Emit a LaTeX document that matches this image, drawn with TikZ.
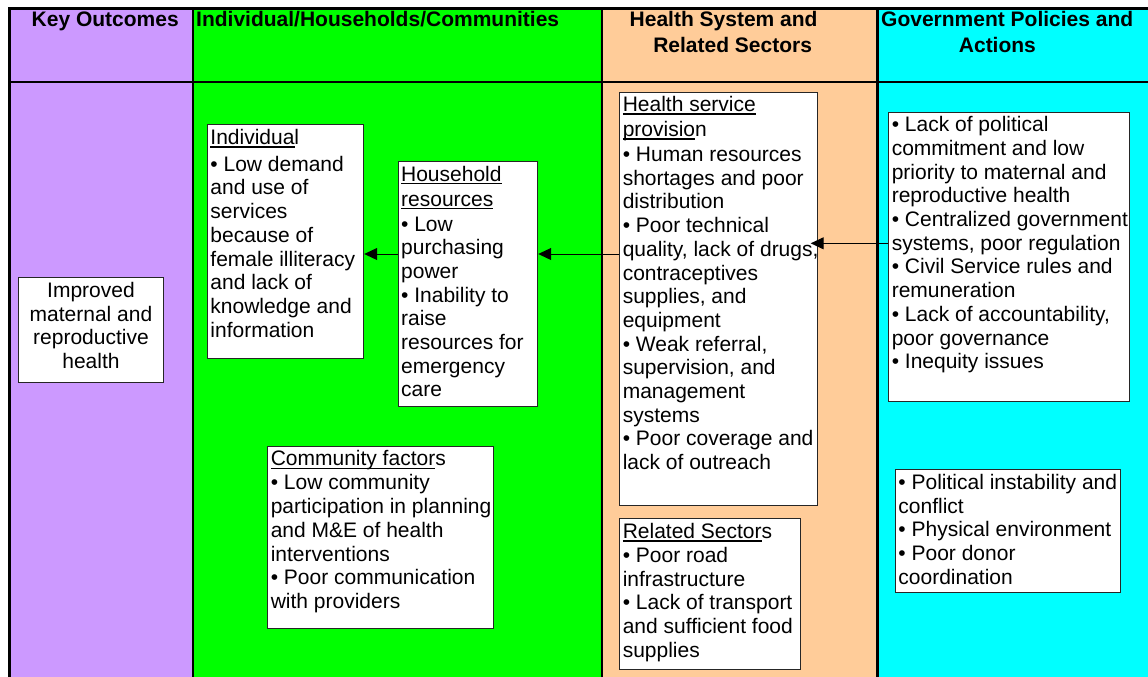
\documentclass[tikz,border=0pt]{standalone}
\usepackage{fontspec}
\setmainfont{Liberation Sans}
\usetikzlibrary{arrows.meta}

\definecolor{outcomecol}{HTML}{CC99FF}
\definecolor{householdcol}{HTML}{00FF00}
\definecolor{healthcol}{HTML}{FFCC99}
\definecolor{govcol}{HTML}{00FFFF}

% underline drawn at a fixed depth below the baseline
\newcommand\undl[1]{\leavevmode\setbox0\hbox{#1}\rlap{\rule[-3.3pt]{\wd0}{1.4pt}}\box0}
\newcommand\bodysize{\fontsize{21}{23.7}\selectfont}
% fixed-size text area, top aligned; lines are set one per row and never rewrapped
\newcommand\boxtext[3]{\parbox[c][#2][t]{#1}{\bodysize\begin{tabular}[t]{@{}l@{}}#3\end{tabular}}}

\tikzset{
  infobox/.style={draw=black!85, line width=0.9pt, fill=white, inner sep=3pt, anchor=north west},
  header/.style={inner sep=0pt, anchor=base west, align=left},
  link/.style={draw=black, line width=1pt, -{Triangle[length=13pt,width=12pt]}},
  frame/.style={line width=2.7pt, line cap=rect},
}

\begin{document}
\begin{tikzpicture}[x=1pt, y=-1pt]
\useasboundingbox (0,0) rectangle (1148,677);

% column backgrounds
\fill[outcomecol]   (9.5,8.3) rectangle (193,677);
\fill[householdcol] (193,8.3) rectangle (602,677);
\fill[healthcol]    (602,8.3) rectangle (877.5,677);
\fill[govcol]       (877.5,8.3) rectangle (1148,677);

% table rules
\draw[frame] (9.6,8.3) -- (1148,8.3);
\draw[frame] (9.6,82) -- (1148,82);
\draw[frame] (9.6,8.3) -- (9.6,677);
\draw[line width=2.2pt] (193,8.3) -- (193,677);
\draw[line width=2.2pt] (602,8.3) -- (602,677);
\draw[line width=2.7pt] (877.5,8.3) -- (877.5,677);

% column headers
\node[header] (h1) at (31.5,27) {\parbox[t]{200pt}{\bfseries\fontsize{21}{26}\selectfont Key Outcomes}};
\node[header] (h2) at (196,27) {\parbox[t]{400pt}{\bfseries\fontsize{21}{26}\selectfont Individual/Households/Communities}};
\node[header] (h3) at (629.5,27) {\parbox[t]{260pt}{\bfseries\fontsize{21}{26}\selectfont Health System and\\\hspace*{23.6pt}Related Sectors}};
\node[header] (h4) at (881,27) {\parbox[t]{280pt}{\bfseries\fontsize{21}{26}\selectfont Government Policies and\\\hspace*{77.7pt}Actions}};

% key outcome
\node[infobox] (outcome) at (18.3,277.3)
  {\parbox[c][98.7pt][c]{138.4pt}{\centering\bodysize Improved\\maternal and\\reproductive\\health\par\vspace*{9pt}}};

% individual / household / community
\node[infobox] (indiv) at (207,124.3) {\boxtext{150.3pt}{227.4pt}{%
\undl{Individua}l\\[3.2pt]
• Low demand\\
and use of\\
services\\
because of\\
female illiteracy\\
and lack of\\
knowledge and\\
information}};

\node[infobox] (house) at (397.7,161) {\boxtext{133.6pt}{238.7pt}{%
\undl{Household}\\[1.3pt]
\undl{resources}\\[1.3pt]
• Low\\
purchasing\\
power\\
• Inability to\\
raise\\
resources for\\
emergency\\
care}};

\node[infobox] (comm) at (267.3,445.7) {\boxtext{220pt}{176pt}{%
\undl{Community factor}s\\[0.5pt]
• Low community\\
participation in planning\\
and M\&E of health\\
interventions\\
• Poor communication\\
with providers}};

% health system
\node[infobox] (health) at (619.3,91.5) {\boxtext{192pt}{407.5pt}{%
\undl{Health service}\\[1.3pt]
\undl{provisio}n\\[1.3pt]
• Human resources\\
shortages and poor\\
distribution\\
• Poor technical\\
quality, lack of drugs,\\
contraceptives\\
supplies, and\\
equipment\\
• Weak referral,\\
supervision, and\\
management\\
systems\\
• Poor coverage and\\
lack of outreach}};

\node[infobox] (related) at (619.3,518.3) {\boxtext{174.7pt}{144.7pt}{%
\undl{Related Sector}s\\[0.5pt]
• Poor road\\
infrastructure\\
• Lack of transport\\
and sufficient food\\
supplies}};

% government
\node[infobox] (gov1) at (888.3,111.7) {\boxtext{234.4pt}{283pt}{%
• Lack of political\\
commitment and low\\
priority to maternal and\\
reproductive health\\
• Centralized government\\
systems, poor regulation\\
• Civil Service rules and\\
remuneration\\
• Lack of accountability,\\
poor governance\\
• Inequity issues}};

\node[infobox] (gov2) at (895,469.3) {\boxtext{219pt}{116.4pt}{%
• Political instability and\\
conflict\\
• Physical environment\\
• Poor donor\\
coordination}};

% influence arrows
\draw[link] (gov1.west |- {(0,243.3)}) -- ([xshift=-7.5pt]health.east |- {(0,243.3)});
\draw[link] (health.west |- {(0,254)}) -- (house.east |- {(0,254)});
\draw[link] (house.west |- {(0,254)}) -- (indiv.east |- {(0,254)});
\end{tikzpicture}
\end{document}
